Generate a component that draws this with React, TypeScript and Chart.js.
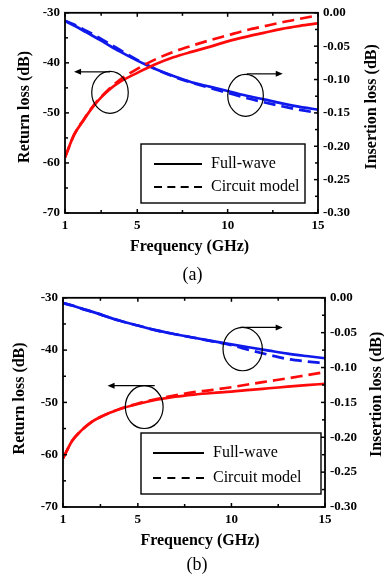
import React, { useEffect, useRef } from 'react';
import { Chart, registerables } from 'chart.js';

Chart.register(...registerables);

// ---------------- data ----------------
const freqA = [1, 1.5, 2, 2.5, 3, 3.5, 4, 5, 6, 7, 8, 9, 10, 11, 12, 13, 14, 15];
const rlFullA = [-58.9, -54.4, -51.6, -49.0, -46.9, -45.2, -43.9, -42.0, -40.3, -38.9, -37.8, -36.8, -35.7, -34.8, -34.0, -33.2, -32.6, -32.1];
const rlCircA = [-58.9, -54.4, -51.5, -48.9, -46.8, -45.0, -43.5, -41.2, -39.3, -37.8, -36.6, -35.5, -34.5, -33.5, -32.7, -31.9, -31.2, -30.5];
const ilFullA = [-0.0123, -0.019, -0.0265, -0.034, -0.0418, -0.0498, -0.0575, -0.0717, -0.0843, -0.0948, -0.104, -0.1106, -0.1172, -0.124, -0.1298, -0.1357, -0.1409, -0.1452];
const ilCircA = [-0.012, -0.0175, -0.0245, -0.0315, -0.039, -0.047, -0.055, -0.0705, -0.084, -0.0955, -0.1045, -0.1125, -0.12, -0.1275, -0.134, -0.14, -0.1455, -0.15];

const freqB = [1, 1.5, 2, 2.5, 3, 3.5, 4, 5, 6, 7, 8, 9, 10, 11, 12, 13, 14, 15];
const rlFullB = [-60.7, -57.3, -55.3, -53.8, -52.8, -52.0, -51.3, -50.3, -49.5, -48.9, -48.5, -48.2, -47.95, -47.6, -47.3, -47.0, -46.7, -46.45];
const rlCircB = [-60.7, -57.3, -55.3, -53.8, -52.8, -52.0, -51.3, -50.2, -49.35, -48.65, -48.05, -47.6, -47.1, -46.5, -45.95, -45.4, -44.8, -44.2];
const ilFullB = [-0.0075, -0.011, -0.0155, -0.0195, -0.0238, -0.0284, -0.0326, -0.0398, -0.0467, -0.0522, -0.0573, -0.0622, -0.0668, -0.0713, -0.0757, -0.08, -0.0835, -0.0867];
const ilCircB = [-0.0075, -0.011, -0.0155, -0.0195, -0.0238, -0.0284, -0.0326, -0.0398, -0.0467, -0.0522, -0.0573, -0.0625, -0.068, -0.0752, -0.0818, -0.0878, -0.0912, -0.094];

const xTickValues = [1, 5, 10, 15];
const xMinorValues = [3, 7.5, 12.5];
const legendLabels = ['Full-wave', 'Circuit model'];
const xTitle = 'Frequency (GHz)';
const yLeftTitle = 'Return loss (dB)';
const yRightTitle = 'Insertion loss (dB)';

// annotation ellipses & arrows (data units)
const circlesA = [
  { f: 3.49, db: -45.9, rf: 1.01, rdb: 4.18 },
  { f: 10.99, db: -46.5, rf: 0.985, rdb: 4.18 },
];
const arrowsA = [
  { f1: 3.49, f2: 1.5, db: -41.8 },
  { f1: 11.06, f2: 13.05, db: -42.2 },
];
const circlesB = [
  { f: 5.34, db: -50.9, rf: 1.01, rdb: 4.09 },
  { f: 10.6, db: -39.8, rf: 1.05, rdb: 4.15 },
];
const arrowsB = [
  { f1: 5.9, f2: 3.38, db: -46.8 },
  { f1: 10.47, f2: 12.74, db: -35.66 },
];

const SERIF = "'Liberation Serif', 'Times New Roman', serif";
const RED = 'rgb(255,10,10)';
const BLUE = 'rgb(15,25,235)';

type Layout = {
  caption: string;
  width: number;
  height: number;
  padTop: number;
  leftW: number;
  rightW: number;
  bottomH: number;
  rlDx: number;
  rlDy: number;
  ilDx: number;
  ilDy: number;
  xTitleDx: number;
  xTitleDy: number;
  capDx: number;
  capDy: number;
  legL: number;
  legR: number;
  legB: number;
  legH: number;
  lineL: number;
  lineR: number;
  textX: number;
  row1: number;
  row2: number;
};

function makePlugin(lay: Layout, circles: any[], arrows: any[]) {
  return {
    id: 'decor',
    afterDraw(chart: any) {
      const ctx = chart.ctx as CanvasRenderingContext2D;
      const { left, right, top, bottom } = chart.chartArea;
      const xs = chart.scales.x;
      const ys = chart.scales.y;
      const y2 = chart.scales.y2;
      ctx.save();
      ctx.strokeStyle = '#000';
      ctx.fillStyle = '#000';
      // frame
      ctx.lineWidth = 1.8;
      ctx.strokeRect(left, top, right - left, bottom - top);
      // ticks
      ctx.lineWidth = 1.5;
      const line = (x1: number, y1: number, x2: number, y2p: number) => {
        ctx.beginPath();
        ctx.moveTo(x1, y1);
        ctx.lineTo(x2, y2p);
        ctx.stroke();
      };
      xTickValues.forEach((v) => {
        const px = xs.getPixelForValue(v);
        line(px, bottom, px, bottom - 4);
        line(px, top, px, top + 4);
      });
      xMinorValues.forEach((v) => {
        const px = xs.getPixelForValue(v);
        line(px, bottom, px, bottom - 3);
        line(px, top, px, top + 3);
      });
      for (let v = -70; v <= -30; v += 5) {
        const py = ys.getPixelForValue(v);
        line(left, py, left + (v % 10 === 0 ? 4 : 3), py);
      }
      for (let i = 0; i <= 12; i++) {
        const v = -i * 0.025;
        const py = y2.getPixelForValue(v);
        line(right, py, right - (i % 2 === 0 ? 4 : 3), py);
      }
      // ellipses
      ctx.lineWidth = 1.2;
      circles.forEach((c) => {
        const cx = xs.getPixelForValue(c.f);
        const cy = ys.getPixelForValue(c.db);
        const rx = Math.abs(xs.getPixelForValue(c.f + c.rf) - cx);
        const ry = Math.abs(ys.getPixelForValue(c.db + c.rdb) - cy);
        ctx.beginPath();
        ctx.ellipse(cx, cy, rx, ry, 0, 0, Math.PI * 2);
        ctx.stroke();
      });
      // arrows
      arrows.forEach((a) => {
        const x1 = xs.getPixelForValue(a.f1);
        const x2 = xs.getPixelForValue(a.f2);
        const py = ys.getPixelForValue(a.db);
        const dir = x2 > x1 ? 1 : -1;
        ctx.lineWidth = 1.2;
        line(x1, py, x2 - dir * 5, py);
        ctx.beginPath();
        ctx.moveTo(x2, py);
        ctx.lineTo(x2 - dir * 7, py - 3);
        ctx.lineTo(x2 - dir * 7, py + 3);
        ctx.closePath();
        ctx.fill();
      });
      // legend
      const bl = left + lay.legL;
      const br = right - lay.legR;
      const bb = bottom - lay.legB;
      const bt = bb - lay.legH;
      ctx.fillStyle = '#fff';
      ctx.fillRect(bl, bt, br - bl, bb - bt);
      ctx.lineWidth = 1.4;
      ctx.strokeStyle = '#000';
      ctx.strokeRect(bl, bt, br - bl, bb - bt);
      ctx.fillStyle = '#000';
      ctx.lineWidth = 2.2;
      const r1 = bottom - lay.row1;
      const r2 = bottom - lay.row2;
      line(left + lay.lineL, r1, left + lay.lineR, r1);
      const len = lay.lineR - lay.lineL;
      const dash = 8;
      const gap = (len - 4 * dash) / 3;
      ctx.setLineDash([dash, gap]);
      line(left + lay.lineL, r2, left + lay.lineR, r2);
      ctx.setLineDash([]);
      ctx.font = `16px ${SERIF}`;
      ctx.textAlign = 'left';
      ctx.textBaseline = 'middle';
      ctx.fillText(legendLabels[0], left + lay.textX, r1);
      ctx.fillText(legendLabels[1], left + lay.textX, r2);
      // axis titles
      ctx.font = `bold 16px ${SERIF}`;
      ctx.textAlign = 'center';
      ctx.textBaseline = 'middle';
      const midY = (top + bottom) / 2;
      ctx.save();
      ctx.translate(left + lay.rlDx, midY + lay.rlDy);
      ctx.rotate(-Math.PI / 2);
      ctx.fillText(yLeftTitle, 0, 0);
      ctx.restore();
      ctx.save();
      ctx.translate(right + lay.ilDx, midY + lay.ilDy);
      ctx.rotate(-Math.PI / 2);
      ctx.fillText(yRightTitle, 0, 0);
      ctx.restore();
      const midX = (left + right) / 2;
      ctx.fillText(xTitle, midX + lay.xTitleDx, bottom + lay.xTitleDy);
      ctx.font = `18px ${SERIF}`;
      ctx.fillText(lay.caption, midX + lay.capDx, bottom + lay.capDy);
      ctx.restore();
    },
  };
}

function Panel(props: {
  lay: Layout;
  freq: number[];
  rlFull: number[];
  rlCirc: number[];
  ilFull: number[];
  ilCirc: number[];
  circles: any[];
  arrows: any[];
  top: number;
}) {
  const ref = useRef<HTMLCanvasElement>(null);
  const { lay } = props;
  useEffect(() => {
    if (!ref.current) return;
    const pts = (ys: number[]) => props.freq.map((f, i) => ({ x: f, y: ys[i] }));
    const tickFont = { family: SERIF, size: 13, weight: 'bold' as const };
    const base = {
      pointRadius: 0,
      borderWidth: 2.7,
      fill: false,
      cubicInterpolationMode: 'monotone' as const,
    };
    const chart = new Chart(ref.current, {
      type: 'line',
      data: {
        datasets: [
          { ...base, data: pts(props.rlFull), borderColor: RED, yAxisID: 'y' },
          { ...base, data: pts(props.rlCirc), borderColor: RED, borderDash: [12, 6], yAxisID: 'y' },
          { ...base, data: pts(props.ilFull), borderColor: BLUE, yAxisID: 'y2' },
          { ...base, data: pts(props.ilCirc), borderColor: BLUE, borderDash: [12, 6], yAxisID: 'y2' },
        ],
      },
      options: {
        responsive: false,
        animation: false,
        devicePixelRatio: 1,
        layout: { padding: { top: lay.padTop, left: 0, right: 0, bottom: 0 } },
        plugins: { legend: { display: false }, tooltip: { enabled: false } },
        scales: {
          x: {
            type: 'linear',
            min: 1,
            max: 15,
            grid: { display: false, drawTicks: false },
            border: { display: false },
            ticks: { font: tickFont, color: '#000', padding: 5, maxRotation: 0, autoSkip: false },
            afterBuildTicks: (s: any) => {
              s.ticks = xTickValues.map((v) => ({ value: v }));
            },
            afterFit: (s: any) => {
              s.height = lay.bottomH;
            },
          },
          y: {
            position: 'left',
            min: -70,
            max: -30,
            grid: { display: false, drawTicks: false },
            border: { display: false },
            ticks: { stepSize: 10, font: tickFont, color: '#000', padding: 5 },
            afterFit: (s: any) => {
              s.width = lay.leftW;
            },
          },
          y2: {
            position: 'right',
            min: -0.3,
            max: 0,
            grid: { display: false, drawTicks: false },
            border: { display: false },
            ticks: {
              stepSize: 0.05,
              font: tickFont,
              color: '#000',
              padding: 5,
              callback: (v: any) => {
                const n = Number(v);
                return Math.abs(n) < 1e-9 ? '0.00' : n.toFixed(2);
              },
            },
            afterFit: (s: any) => {
              s.width = lay.rightW;
            },
          },
        },
      },
      plugins: [makePlugin(lay, props.circles, props.arrows)],
    } as any);
    return () => chart.destroy();
  }, []);
  return (
    <canvas
      ref={ref}
      width={lay.width}
      height={lay.height}
      style={{ position: 'absolute', left: 0, top: props.top, width: lay.width, height: lay.height, display: 'block' }}
    />
  );
}

const layA: Layout = {
  caption: '(a)',
  width: 384,
  height: 285,
  padTop: 10,
  leftW: 65,
  rightW: 66,
  bottomH: 72,
  rlDx: -40,
  rlDy: -6,
  ilDx: 54,
  ilDy: -6,
  xTitleDx: -2,
  xTitleDy: 34,
  capDx: 1,
  capDy: 62,
  legL: 76,
  legR: 13,
  legB: 10,
  legH: 59,
  lineL: 89,
  lineR: 137,
  textX: 146,
  row1: 49,
  row2: 26,
};

const layB: Layout = {
  caption: '(b)',
  width: 384,
  height: 292,
  padTop: 11,
  leftW: 63,
  rightW: 59,
  bottomH: 70,
  rlDx: -43,
  rlDy: -4,
  ilDx: 52,
  ilDy: -8,
  xTitleDx: 6,
  xTitleDy: 34,
  capDx: 3,
  capDy: 58,
  legL: 78,
  legR: 4,
  legB: 13,
  legH: 61,
  lineL: 90,
  lineR: 141,
  textX: 150,
  row1: 54,
  row2: 29,
};

export default function App() {
  return (
    <div
      style={{
        position: 'absolute',
        left: 0,
        top: 0,
        width: 384,
        height: 577,
        background: '#fff',
        overflow: 'hidden',
      }}
    >
      <Panel
        lay={layA}
        freq={freqA}
        rlFull={rlFullA}
        rlCirc={rlCircA}
        ilFull={ilFullA}
        ilCirc={ilCircA}
        circles={circlesA}
        arrows={arrowsA}
        top={0}
      />
      <Panel
        lay={layB}
        freq={freqB}
        rlFull={rlFullB}
        rlCirc={rlCircB}
        ilFull={ilFullB}
        ilCirc={ilCircB}
        circles={circlesB}
        arrows={arrowsB}
        top={285}
      />
    </div>
  );
}
